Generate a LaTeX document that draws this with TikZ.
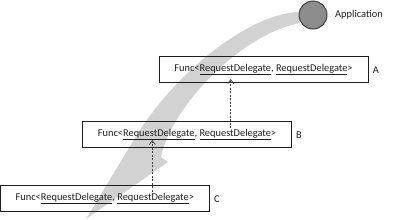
\documentclass[tikz,border=0pt]{standalone}
\usepackage{fontspec}
\setmainfont{Carlito}
\usetikzlibrary{arrows.meta}
\definecolor{bandgray}{HTML}{D2D2D2}
\definecolor{ink}{HTML}{1E1E1E}
\definecolor{ballfill}{HTML}{8C8C8C}
\definecolor{ballline}{HTML}{404040}
\begin{document}
\begin{tikzpicture}[x=1pt,y=-1pt,
  funcbox/.style={draw=ink, line width=0.8pt, minimum width=209pt, minimum height=26pt, inner sep=0pt, font=\fontsize{10.4}{12}\selectfont, text=ink},
  tag/.style={font=\fontsize{10.4}{12}\selectfont, text=ink, inner sep=0pt},
  dep/.style={draw=ink!85, dash pattern=on 2pt off 1.5pt, line width=0.7pt, -{Straight Barb[length=4pt,width=6pt]}},
  ball/.style={circle, draw=ballline, fill=ballfill, line width=1pt, minimum size=28pt, inner sep=0pt}
]
\useasboundingbox (0,0) rectangle (400,220);
% big curved gray arrow
\fill[bandgray] (298,12) .. controls (250,14) and (178,70) .. (138,133)
  -- (86,219) -- (168,162) -- (161,157)
  .. controls (170,110) and (238,35) .. (300,23) -- cycle;
% application ball
\node[ball] (app) at (313,15) {};
\node[tag, anchor=west] (applabel) at (335,15) {Application};
% boxes
\node[funcbox] (A) at (263.5,69.5) {Func<\underline{RequestDelegate}, \underline{RequestDelegate}>};
\node[funcbox] (B) at (187,134.5) {Func<\underline{RequestDelegate}, \underline{RequestDelegate}>};
\node[funcbox] (C) at (104.8,198.5) {Func<\underline{RequestDelegate}, \underline{RequestDelegate}>};
\node[tag] (la) at (376,70) {A};
\node[tag] (lb) at (299,135) {B};
\node[tag] (lc) at (217,199) {C};
% dependency arrows
\coordinate (cfrom) at (152.3,195);
\coordinate (bto) at (152.3,140);
\coordinate (bfrom) at (230.7,128);
\coordinate (ato) at (230.7,79);
\draw[dep] (cfrom) -- (bto);
\draw[dep] (bfrom) -- (ato);
\end{tikzpicture}
\end{document}
